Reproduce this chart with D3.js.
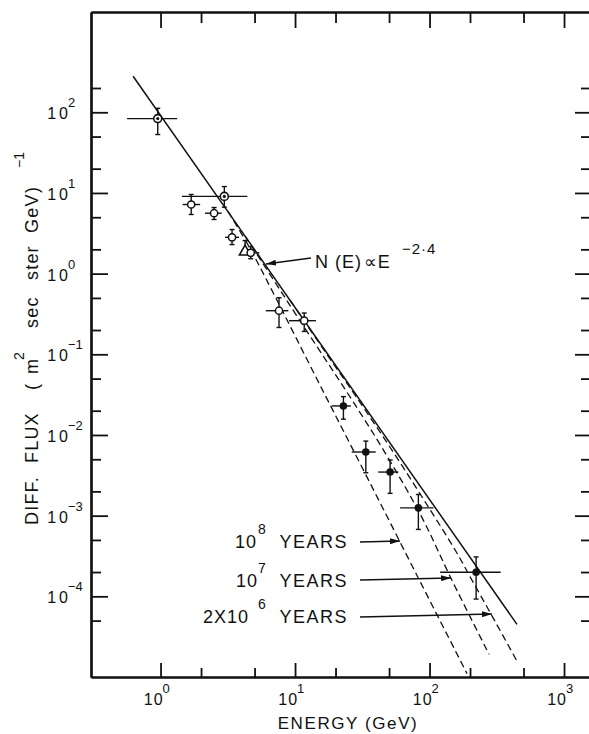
<!DOCTYPE html>
<html><head><meta charset="utf-8">
<script src="https://cdn.jsdelivr.net/npm/d3@7"></script>
<style>
body{margin:0;background:#fff}
svg{display:block;background:#fff}
text{font-family:"Liberation Sans","DejaVu Sans",Arial,sans-serif;fill:#111}
</style>
</head><body>
<svg id="c" width="589" height="734"></svg>
<script>
// ---------- data ----------
const xMajor = [1, 10, 100, 1000];
const xMinor = [2, 5, 20, 50, 200, 500];
const xExp = ["0", "1", "2", "3"];
const yMajor = [1e2, 1e1, 1e0, 1e-1, 1e-2, 1e-3, 1e-4];
const yMinor = [200, 50, 20, 5, 2, 0.5, 0.2, 0.05, 0.02, 0.005, 0.002, 5e-4, 2e-4, 5e-5];
const yExp = ["2", "1", "0", "\u22121", "\u22122", "\u22123", "\u22124"];

const energy = [0.953, 2.98, 1.69, 2.50, 3.40, 4.25, 4.68, 7.60, 11.7, 22.9, 33.6, 50.9, 82.6, 222];
const flux   = [83.5, 9.06, 7.19, 5.61, 2.82, 1.87, 1.81, 0.347, 0.261, 0.0229, 0.00615, 0.00347, 0.00125, 1.99e-4];
const eLo    = [0.564, 1.44, 1.46, 2.14, 3.02, 4.25, 4.08, 6.06, 9.02, 18.7, 26.4, 41.6, 60.4, 120];
const eHi    = [1.33, 4.42, 1.97, 2.85, 3.83, 4.25, 5.43, 8.92, 14.3, 26.0, 39.8, 58.6, 107, 338];
const fLo    = [53, 6.67, 5.41, 4.69, 2.29, 1.87, 1.53, 0.215, 0.192, 0.0157, 0.0034, 0.00189, 0.000675, 9.25e-5];
const fHi    = [112, 12.0, 9.57, 6.6, 3.52, 2.57, 2.16, 0.503, 0.325, 0.0299, 0.0084, 0.00489, 0.00183, 3.08e-4];
const kind   = ["dot","dot","open","open","open","tri","open","open","open","filled","filled","filled","filled","filled"];

const powerE = [0.625, 447];
const powerF = [280, 4.49e-5];

const age8E = [3.18, 4.63, 6.75, 15.3, 36.1, 85.0, 190];
const age8F = [5.89, 2.05, 0.615, 0.0418, 0.00254, 1.53e-4, 1.10e-5];
const age7E = [4.25, 6.98, 10.07, 17.1, 26.8, 45.9, 86.8, 145.5, 277];
const age7F = [2.92, 0.818, 0.318, 0.083, 0.0264, 0.00632, 9.86e-4, 1.63e-4, 1.91e-5];
const age2E = [9.18, 16.6, 29.9, 53.1, 92.1, 157, 205, 290, 453];
const age2F = [0.468, 0.110, 0.0264, 0.00632, 1.51e-3, 3.62e-4, 1.63e-4, 5.81e-5, 1.51e-5];

// ---------- layout ----------
const L = 91, R = 590, T = 12, B = 677;
const svg = d3.select("#c");
const x = d3.scaleLog().domain([0.304, 1560]).range([L, R]);
const y = d3.scaleLog().domain([1750, 1e-5]).range([T, B]);
const ink = "#111";

// axes / ticks
function ax(gen, tr, vals, size) {
  const g = svg.append("g").attr("transform", tr)
    .call(gen.tickValues(vals).tickSize(size).tickSizeOuter(0).tickFormat(""));
  g.selectAll(".tick line").attr("stroke", ink).attr("stroke-width", 1.8);
  g.select(".domain").attr("stroke", ink).attr("stroke-width", 2.2);
  return g;
}
ax(d3.axisBottom(x), `translate(0,${B})`, xMajor, -14);
ax(d3.axisBottom(x), `translate(0,${B})`, xMinor, -9);
ax(d3.axisTop(x), `translate(0,${T})`, xMajor, -16);
ax(d3.axisTop(x), `translate(0,${T})`, xMinor, -11);
ax(d3.axisLeft(y), `translate(${L},0)`, yMajor, -17);
ax(d3.axisLeft(y), `translate(${L},0)`, yMinor, -10);
ax(d3.axisRight(y), `translate(${R},0)`, yMajor, -15);
ax(d3.axisRight(y), `translate(${R},0)`, yMinor, -9);

// tick labels
xMajor.forEach((v, i) => {
  const t = svg.append("text").attr("x", x(v) + 2).attr("y", 705)
    .attr("text-anchor", "end").style("font-size", "16px");
  t.append("tspan").text("1");
  t.append("tspan").attr("dx", 1).text("0");
  svg.append("text").attr("x", x(v) + 2).attr("y", 693)
    .style("font-size", "13px").text(xExp[i]);
});
yMajor.forEach((v, i) => {
  const t = svg.append("text").attr("x", 68).attr("y", y(v) + 7)
    .attr("text-anchor", "end").style("font-size", "16px");
  t.append("tspan").text("1");
  t.append("tspan").attr("dx", 3).text("0");
  svg.append("text").attr("x", 68).attr("y", y(v) - 5)
    .style("font-size", "13px").text(yExp[i]);
});

// axis titles
svg.append("text").attr("x", 348).attr("y", 729).attr("text-anchor", "middle")
  .style("font-size", "17px").style("letter-spacing", "1.6px").text("ENERGY (GeV)");
const yt = svg.append("g").attr("transform", "translate(38,0) rotate(-90)");
[["DIFF.", -525], ["FLUX", -463], ["(", -390], ["m", -374], ["sec", -328], ["ster", -280], ["GeV", -233], [")", -193]]
  .forEach(([s, p]) => yt.append("text").attr("x", p).attr("y", 0)
    .style("font-size", "18px").style("letter-spacing", "1.2px").text(s));
[["2", -360], ["\u22121", -168]].forEach(([s, p]) => yt.append("text").attr("x", p).attr("y", -14)
  .style("font-size", "14px").text(s));

// curves
const lineGen = d3.line().x(d => x(d[0])).y(d => y(d[1]));
svg.append("path").datum(d3.zip(powerE, powerF)).attr("d", lineGen)
  .attr("fill", "none").attr("stroke", ink).attr("stroke-width", 1.5);
const curveGen = d3.line().x(d => x(d[0])).y(d => y(d[1])).curve(d3.curveCatmullRom.alpha(0.5));
[[age8E, age8F], [age7E, age7F], [age2E, age2F]].forEach(([e, f]) => {
  svg.append("path").datum(d3.zip(e, f)).attr("d", curveGen)
    .attr("fill", "none").attr("stroke", ink).attr("stroke-width", 1.3)
    .attr("stroke-dasharray", "7,4");
});

// error bars & markers
const pts = energy.map((e, i) => ({e, f: flux[i], el: eLo[i], eh: eHi[i], fl: fLo[i], fh: fHi[i], k: kind[i]}));
const eg = svg.append("g").attr("stroke", ink).attr("stroke-width", 1.4);
pts.forEach(p => {
  const cx = x(p.e), cy = y(p.f);
  if (p.eh > p.el) eg.append("line").attr("x1", x(p.el)).attr("x2", x(p.eh)).attr("y1", cy).attr("y2", cy);
  eg.append("line").attr("x1", cx).attr("x2", cx).attr("y1", y(p.fh)).attr("y2", y(p.fl));
  eg.append("line").attr("x1", cx - 2.5).attr("x2", cx + 2.5).attr("y1", y(p.fh)).attr("y2", y(p.fh));
  if (p.fl < p.f) eg.append("line").attr("x1", cx - 2.5).attr("x2", cx + 2.5).attr("y1", y(p.fl)).attr("y2", y(p.fl));
});
const mg = svg.append("g");
pts.forEach(p => {
  const cx = x(p.e), cy = y(p.f);
  if (p.k === "open") {
    mg.append("circle").attr("cx", cx).attr("cy", cy).attr("r", 3.6)
      .attr("fill", "#fff").attr("stroke", ink).attr("stroke-width", 1.5);
  } else if (p.k === "filled") {
    mg.append("circle").attr("cx", cx).attr("cy", cy).attr("r", 3.8).attr("fill", ink);
  } else if (p.k === "dot") {
    mg.append("circle").attr("cx", cx).attr("cy", cy).attr("r", 4)
      .attr("fill", "#fff").attr("stroke", ink).attr("stroke-width", 1.6);
    mg.append("circle").attr("cx", cx).attr("cy", cy).attr("r", 1.6).attr("fill", ink);
  } else if (p.k === "tri") {
    mg.append("path").attr("d", d3.symbol(d3.symbolTriangle, 55)())
      .attr("transform", `translate(${cx},${cy})`)
      .attr("fill", "#fff").attr("stroke", ink).attr("stroke-width", 1.6);
  }
});

// annotations
const defs = svg.append("defs");
defs.append("marker").attr("id", "ah").attr("viewBox", "0 0 10 6").attr("refX", 10).attr("refY", 3)
  .attr("markerWidth", 10).attr("markerHeight", 6).attr("markerUnits", "userSpaceOnUse").attr("orient", "auto")
  .append("path").attr("d", "M0,0 L10,3 L0,6 Z").attr("fill", ink);
function arrow(x1, y1, x2, y2) {
  svg.append("line").attr("x1", x1).attr("y1", y1).attr("x2", x2).attr("y2", y2)
    .attr("stroke", ink).attr("stroke-width", 1.4).attr("marker-end", "url(#ah)");
}
arrow(311, 258, 266, 264);
const nt = svg.append("text").attr("x", 315).attr("y", 268).style("font-size", "18px").style("letter-spacing", "1px");
nt.append("tspan").text("N (E)");
nt.append("tspan").attr("dx", 2).text("\u221DE");
svg.append("text").attr("x", 402).attr("y", 254).style("font-size", "15px").style("letter-spacing", "1px").text("\u22122\u00B74");

function yearLabel(pre, sup, base, preX, supX) {
  const t = svg.append("text").attr("x", preX).attr("y", base).style("font-size", "18px").style("letter-spacing", "1px");
  t.text(pre);
  svg.append("text").attr("x", supX).attr("y", base - 14).style("font-size", "14px").text(sup);
  svg.append("text").attr("x", 348).attr("y", base).attr("text-anchor", "end")
    .style("font-size", "18px").style("letter-spacing", "1.5px").text("YEARS");
}
yearLabel("10", "8", 548, 235, 258);
yearLabel("10", "7", 587, 236, 258);
yearLabel("2X10", "6", 623, 203, 258);
arrow(360, 542, 400, 541);
arrow(360, 580, 451, 578);
arrow(360, 617, 492, 614);
</script>
</body></html>
